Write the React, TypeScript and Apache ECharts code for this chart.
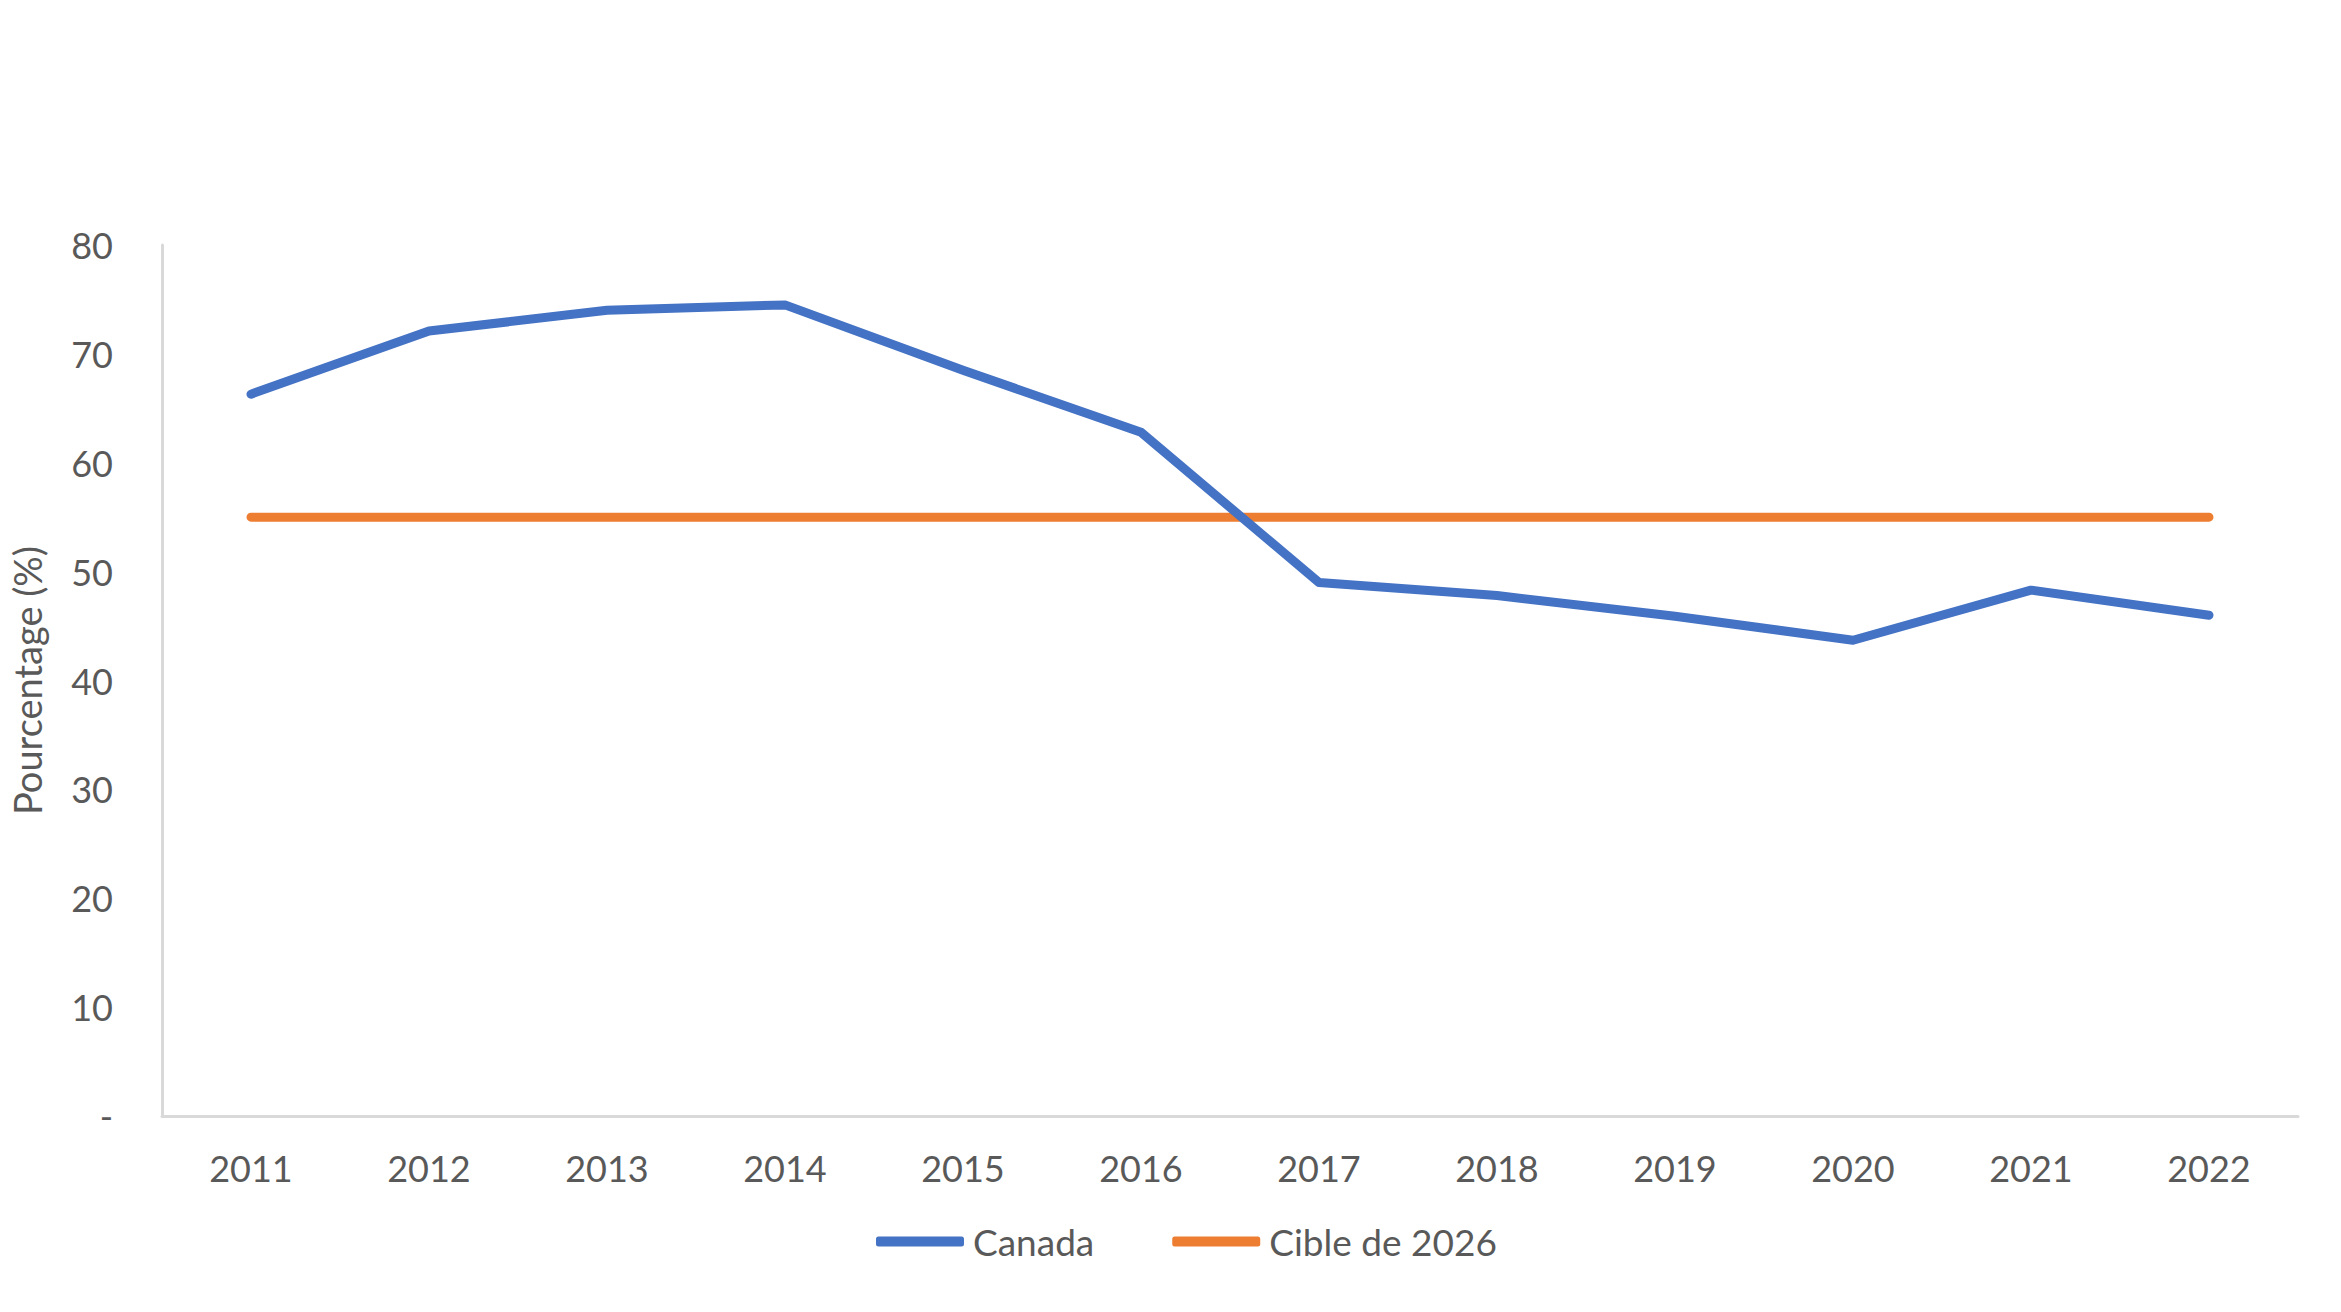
import React, { useEffect, useRef } from "react";
import * as echarts from "echarts";

const years = ["2011", "2012", "2013", "2014", "2015", "2016", "2017", "2018", "2019", "2020", "2021", "2022"];
const canada = [66.3, 72.1, 74.0, 74.5, 68.5, 62.8, 49.0, 47.8, 45.9, 43.7, 48.3, 46.0];
const cible = [55, 55, 55, 55, 55, 55, 55, 55, 55, 55, 55, 55];

const FONT = "Lato, 'Open Sans', sans-serif";
const TXT = "#595959";

export default function App() {
  const ref = useRef<HTMLDivElement>(null);
  useEffect(() => {
    if (!ref.current) return;
    const chart = echarts.init(ref.current, undefined, { renderer: "svg" });
    chart.setOption({
      animation: false,
      backgroundColor: "#ffffff",
      textStyle: { fontFamily: FONT, color: TXT },
      grid: { left: 162, right: 43, top: 245, bottom: 196, containLabel: false },
      legend: {
        top: 1218,
        left: 871,
        itemWidth: 88,
        itemHeight: 10,
        itemGap: 78,
        icon: "roundRect",
        textStyle: { fontFamily: FONT, color: TXT, fontSize: 37, padding: [0, 0, 0, 4] },
        data: ["Canada", "Cible de 2026"],
      },
      xAxis: {
        type: "category",
        data: years,
        boundaryGap: true,
        axisLine: { show: true, lineStyle: { color: "#d9d9d9", width: 3 } },
        axisTick: { show: false },
        axisLabel: { color: TXT, fontSize: 36, fontFamily: FONT, margin: 34 },
        splitLine: { show: false },
      },
      yAxis: {
        type: "value",
        min: 0,
        max: 80,
        interval: 10,
        name: "Pourcentage (%)",
        nameLocation: "middle",
        nameGap: 116,
        nameTextStyle: { color: TXT, fontSize: 38, fontFamily: FONT },
        axisLine: { show: true, lineStyle: { color: "#d9d9d9", width: 3 } },
        axisTick: { show: false },
        splitLine: { show: false },
        axisLabel: {
          color: TXT,
          fontSize: 36,
          fontFamily: FONT,
          margin: 49,
          formatter: (v: number) => (v === 0 ? "-" : String(v)),
        },
      },
      series: [
        {
          name: "Canada",
          type: "line",
          data: canada,
          symbol: "none",
          lineStyle: { color: "#4472c4", width: 9, cap: "round", join: "round" },
          itemStyle: { color: "#4472c4" },
          z: 3,
        },
        {
          name: "Cible de 2026",
          type: "line",
          data: cible,
          symbol: "none",
          lineStyle: { color: "#ed7d31", width: 9, cap: "round" },
          itemStyle: { color: "#ed7d31" },
          z: 2,
        },
      ],
    });
    return () => chart.dispose();
  }, []);
  return (
    <div
      ref={ref}
      style={{ position: "absolute", left: 0, top: 0, width: 2341, height: 1312 }}
    />
  );
}
